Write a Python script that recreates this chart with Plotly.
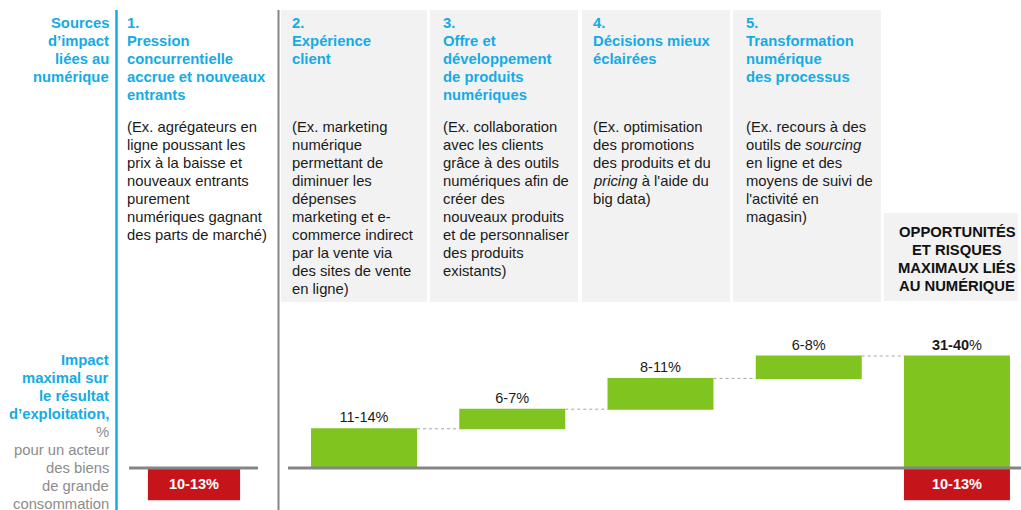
import plotly.graph_objects as go

W, H = 1021, 510

# ---------------- data ----------------
waterfall_categories = ["Expérience client", "Offre et développement de produits numériques",
                        "Décisions mieux éclairées", "Transformation numérique des processus",
                        "Opportunités et risques maximaux"]
waterfall_measures = ["relative", "relative", "relative", "relative", "total"]
waterfall_values = [14, 7, 11, 8, 0]
waterfall_labels = ["11-14%", "6-7%", "8-11%", "6-8%", "<b>31-40</b>%"]

risk_categories_left = ["Pression concurrentielle accrue et nouveaux entrants"]
risk_values_left = [-11.5]
risk_labels_left = ["<b>10-13%</b>"]
risk_categories_right = ["Opportunités et risques maximaux"]
risk_values_right = [-11.5]
risk_labels_right = ["<b>10-13%</b>"]

left_header = ["Sources", "d’impact", "liées au", "numérique"]
left_impact_bold = ["Impact", "maximal sur", "le résultat", "d’exploitation,"]
left_impact_grey = ["%", "pour un acteur", "des biens", "de grande", "consommation"]

col_headers = [
    ["1.", "Pression", "concurrentielle", "accrue et nouveaux", "entrants"],
    ["2.", "Expérience", "client"],
    ["3.", "Offre et", "développement", "de produits", "numériques"],
    ["4.", "Décisions mieux", "éclairées"],
    ["5.", "Transformation", "numérique", "des processus"],
]
col_descriptions = [
    ["(Ex. agrégateurs en", "ligne poussant les", "prix à la baisse et", "nouveaux entrants",
     "purement", "numériques gagnant", "des parts de marché)"],
    ["(Ex. marketing", "numérique", "permettant de", "diminuer les", "dépenses",
     "marketing et e-", "commerce indirect", "par la vente via", "des sites de vente", "en ligne)"],
    ["(Ex. collaboration", "avec les clients", "grâce à des outils", "numériques afin de",
     "créer des", "nouveaux produits", "et de personnaliser", "des produits", "existants)"],
    ["(Ex. optimisation", "des promotions", "des produits et du", "<i>pricing</i> à l'aide du", "big data)"],
    ["(Ex. recours à des", "outils de <i>sourcing</i>", "en ligne et des", "moyens de suivi de",
     "l'activité en", "magasin)"],
]
total_header = ["OPPORTUNITÉS", "ET RISQUES", "MAXIMAUX LIÉS", "AU NUMÉRIQUE"]

# ---------------- styles ----------------
BLUE = "#14abe6"
GREEN = "#80c41f"
RED = "#c5141a"
GREY_LINE = "#858585"
BOX = "#f2f2f2"
FONT = "Liberation Sans, Arial, sans-serif"
FS = 14.8
STEP = 18


def px(x):
    return x / W


def py(y):
    return 1 - y / H


fig = go.Figure()

# left red bar (column 1)
fig.add_trace(go.Bar(
    x=risk_categories_left, y=risk_values_left, text=risk_labels_left,
    textposition="inside", insidetextanchor="middle",
    textfont=dict(color="white", size=14.5, family=FONT),
    marker=dict(color=RED, line=dict(width=0)), width=0.72,
    xaxis="x", yaxis="y", showlegend=False, cliponaxis=False,
))

# waterfall (columns 2-6)
fig.add_trace(go.Waterfall(
    x=waterfall_categories, y=waterfall_values, measure=waterfall_measures,
    text=waterfall_labels, textposition="outside",
    textfont=dict(color="#1a1a1a", size=14.5, family=FONT),
    increasing=dict(marker=dict(color=GREEN, line=dict(width=0))),
    totals=dict(marker=dict(color=GREEN, line=dict(width=0))),
    connector=dict(line=dict(color="#a6a6a6", width=1, dash="dot"), mode="between"),
    width=0.715, xaxis="x2", yaxis="y2", showlegend=False, cliponaxis=False,
))

# right red bar under total
fig.add_trace(go.Bar(
    x=risk_categories_right, y=risk_values_right, text=risk_labels_right,
    textposition="inside", insidetextanchor="middle",
    textfont=dict(color="white", size=14.5, family=FONT),
    marker=dict(color=RED, line=dict(width=0)), width=0.715,
    xaxis="x2", yaxis="y2", showlegend=False, cliponaxis=False,
))

shapes = []
# grey header boxes
for x0, x1 in [(281, 427), (430, 578), (582, 730), (733, 881)]:
    shapes.append(dict(type="rect", xref="paper", yref="paper", x0=px(x0), x1=px(x1),
                       y0=py(302), y1=py(10), fillcolor=BOX, line=dict(width=0), layer="below"))
shapes.append(dict(type="rect", xref="paper", yref="paper", x0=px(884), x1=px(1018),
                   y0=py(301), y1=py(213), fillcolor=BOX, line=dict(width=0), layer="below"))
# vertical separators
shapes.append(dict(type="line", xref="paper", yref="paper", x0=px(116.5), x1=px(116.5),
                   y0=py(10), y1=py(510), line=dict(color=BLUE, width=2.5)))
shapes.append(dict(type="line", xref="paper", yref="paper", x0=px(278.5), x1=px(278.5),
                   y0=py(10), y1=py(510), line=dict(color=GREY_LINE, width=2)))
# baselines
shapes.append(dict(type="line", xref="paper", yref="y", x0=px(129), x1=px(258), y0=0, y1=0,
                   line=dict(color=GREY_LINE, width=3), layer="above"))
shapes.append(dict(type="line", xref="paper", yref="y2", x0=px(288), x1=px(1021), y0=0, y1=0,
                   line=dict(color=GREY_LINE, width=3), layer="above"))

annotations = []


def add_lines(lines, x, base0, color, bold=False, xanchor="left", size=FS):
    for i, line in enumerate(lines):
        txt = f"<b>{line}</b>" if bold else line
        annotations.append(dict(
            text=txt, x=px(x), y=py(base0 + i * STEP - 5), xref="paper", yref="paper",
            xanchor=xanchor, yanchor="middle", showarrow=False,
            align=xanchor if xanchor != "center" else "center",
            font=dict(family=FONT, size=size, color=color), borderpad=0,
        ))


add_lines(left_header, 110, 28, BLUE, bold=True, xanchor="right")
add_lines(left_impact_bold, 110, 365, BLUE, bold=True, xanchor="right")
add_lines(left_impact_grey, 110, 437, "#8c8c8c", bold=False, xanchor="right")

col_x = [126, 291, 442, 592, 745]
for cx, head, desc in zip(col_x, col_headers, col_descriptions):
    add_lines(head, cx, 28, BLUE, bold=True)
    add_lines(desc, cx, 132, "#1a1a1a")

add_lines(total_header, 957, 237, "#111111", bold=True, xanchor="center")

fig.update_layout(
    width=W, height=H, margin=dict(l=0, r=0, t=0, b=0),
    paper_bgcolor="white", plot_bgcolor="rgba(0,0,0,0)",
    font=dict(family=FONT),
    xaxis=dict(domain=[px(130), px(258)], range=[-0.5, 0.5], visible=False, fixedrange=True),
    yaxis=dict(domain=[0, 1], range=[-15, 167.14], visible=False, fixedrange=True),
    xaxis2=dict(domain=[px(288), 1], range=[-0.513, 4.432], visible=False, fixedrange=True,
                anchor="y2"),
    yaxis2=dict(domain=[0, 1], range=[-15, 167.14], visible=False, fixedrange=True,
                anchor="x2", overlaying="y"),
    shapes=shapes, annotations=annotations,
    showlegend=False, uniformtext=dict(mode=False),
)

fig.write_html(
    "out.html",
    config={"displayModeBar": False},
    post_script="document.body.style.margin='0';document.body.style.padding='0';"
                "document.body.style.overflow='hidden';",
)
